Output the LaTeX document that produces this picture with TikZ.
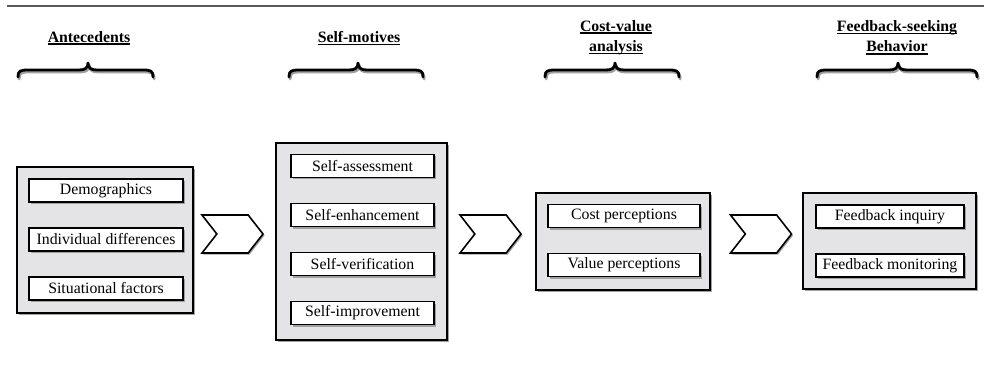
\documentclass[tikz,border=0pt]{standalone}
\usepackage{fontspec}
\setmainfont{Liberation Serif}
\usetikzlibrary{shapes.symbols,shadows}
\definecolor{boxgray}{RGB}{228,228,230}
\definecolor{shadowgray}{RGB}{160,160,160}
\definecolor{rulegray}{RGB}{90,90,90}
\newcommand\myul[1]{\setbox0\hbox{#1}\rlap{\rule[-2.6pt]{\wd0}{1.3pt}}\box0}
\newcommand\mybrace[3]{%
  \draw[braceshadow,shift={(1.2,2)}] (#1,77) .. controls (#1,71) and (#1+2,70) .. (#1+10,70) -- (#2-9,70) .. controls (#2-3,70) and (#2,68) .. (#2,63) .. controls (#2,68) and (#2+3,70) .. (#2+9,70) -- (#3-10,70) .. controls (#3-2,70) and (#3,71) .. (#3,77);
  \draw[bracestyle] (#1,77) .. controls (#1,71) and (#1+2,70) .. (#1+10,70) -- (#2-9,70) .. controls (#2-3,70) and (#2,68) .. (#2,63) .. controls (#2,68) and (#2+3,70) .. (#2+9,70) -- (#3-10,70) .. controls (#3-2,70) and (#3,71) .. (#3,77);}
\begin{document}
\begin{tikzpicture}[x=1pt,y=-1pt,
  font=\fontsize{15.8}{20}\selectfont,
  hdr/.style={font=\fontsize{15.8}{20.5}\selectfont\bfseries, align=center, inner sep=0pt},
  outerbox/.style={draw=black, line width=1.5pt, fill=boxgray, inner sep=0pt, outer sep=0pt,
    drop shadow={shadow xshift=2pt, shadow yshift=-2pt, fill=shadowgray, opacity=1}},
  inbox/.style={draw=black, line width=1.8pt, fill=white, inner sep=0pt, outer sep=0pt,
    minimum height=23pt,
    drop shadow={shadow xshift=2pt, shadow yshift=-2pt, fill=shadowgray, opacity=1}},
  chev/.style={signal, signal to=east, signal from=west, draw=black, line width=1.6pt, fill=white,
    signal pointer angle=104, minimum width=61pt, minimum height=38pt, inner sep=0pt, outer sep=0pt,
    drop shadow={shadow xshift=1.5pt, shadow yshift=-1.5pt, fill=shadowgray, opacity=1}},
  bracestyle/.style={line width=2.8pt, line cap=round, line join=round, black},
  braceshadow/.style={line width=2.8pt, line cap=round, line join=round, shadowgray}]
\useasboundingbox (0,0) rectangle (984,366);
% top rule
\coordinate (ruleL) at (7,6);
\coordinate (ruleR) at (984,6);
\draw[line width=2pt, rulegray] (ruleL) -- (ruleR);
% headers
\node[hdr] (h1) at (89,38) {\myul{Antecedents}};
\node[hdr] (h2) at (359,38) {\myul{Self-motives}};
\node[hdr] (h3) at (616,37.5) {\myul{Cost-value}\\\myul{analysis}};
\node[hdr] (h4) at (897,37.5) {\myul{Feedback-seeking}\\\myul{Behavior}};
% braces
\mybrace{18}{88}{153}
\mybrace{289}{358}{423}
\mybrace{545}{615}{679}
\mybrace{817}{898}{977}
% Antecedents
\node[outerbox, minimum width=176pt, minimum height=146pt] (ant) at (105,240) {};
\node[inbox, minimum width=154pt] (a1) at (106,190.5) {Demographics};
\node[inbox, minimum width=154pt] (a2) at (106,239.5) {Individual differences};
\node[inbox, minimum width=154pt] (a3) at (106,288.5) {Situational factors};
% Self-motives
\node[outerbox, minimum width=171pt, minimum height=197pt] (sm) at (361.5,241.5) {};
\node[inbox, minimum width=143pt] (s1) at (362.5,166) {Self-assessment};
\node[inbox, minimum width=143pt] (s2) at (362.5,215) {Self-enhancement};
\node[inbox, minimum width=143pt] (s3) at (362.5,264) {Self-verification};
\node[inbox, minimum width=143pt] (s4) at (362.5,313) {Self-improvement};
% Cost-value
\node[outerbox, minimum width=174pt, minimum height=97pt] (cv) at (623,241.5) {};
\node[inbox, minimum width=152pt] (c1) at (624,216) {Cost perceptions};
\node[inbox, minimum width=152pt] (c2) at (624,265) {Value perceptions};
% Feedback
\node[outerbox, minimum width=173pt, minimum height=96pt] (fb) at (889.5,241) {};
\node[inbox, minimum width=148pt] (f1) at (890,216.5) {Feedback inquiry};
\node[inbox, minimum width=148pt] (f2) at (890,265.5) {Feedback monitoring};
% chevrons
\node[chev] (ch1) at (232.5,234) {};
\node[chev] (ch2) at (490.5,234) {};
\node[chev] (ch3) at (761,234) {};
\end{tikzpicture}
\end{document}
